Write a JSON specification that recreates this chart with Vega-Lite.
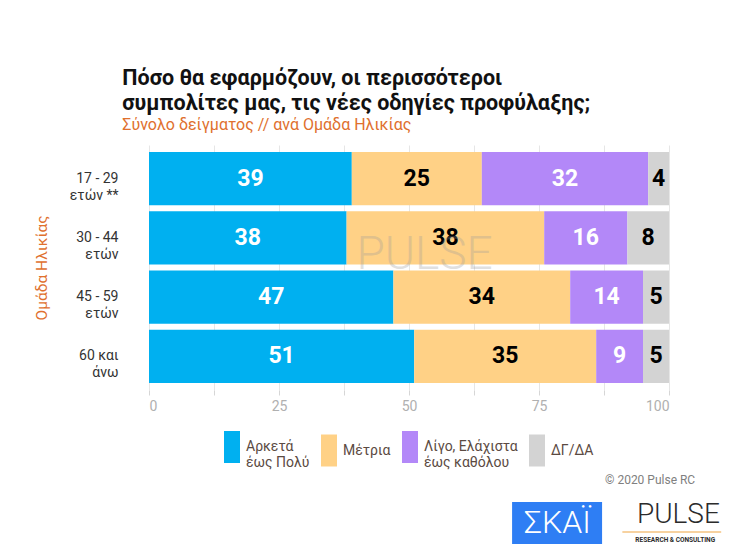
{
  "$schema": "https://vega.github.io/schema/vega-lite/v6.json",
  "padding": {"left": 34, "top": 67, "right": 0, "bottom": 0},
  "title": {
    "text": ["Πόσο θα εφαρμόζουν, οι περισσότεροι", "συμπολίτες μας, τις νέες οδηγίες προφύλαξης;"],
    "subtitle": "Σύνολο δείγματος // ανά Ομάδα Ηλικίας",
    "anchor": "start",
    "frame": "bounds",
    "dx": 88,
    "fontSize": 21.5,
    "fontWeight": "bold",
    "lineHeight": 25,
    "color": "#111111",
    "subtitleColor": "#E0702E",
    "subtitleFontSize": 16,
    "subtitlePadding": 3,
    "offset": 12
  },
  "resolve": {"scale": {"color": "independent"}, "legend": {"color": "independent"}},
  "vconcat": [
    {
      "width": 520,
      "height": 245,
      "layer": [
        {
          "data": {
            "values": [
              {"age": "17 - 29|ετών **", "cat": "Αρκετά|έως Πολύ", "ord": 1, "v": 39},
              {"age": "17 - 29|ετών **", "cat": "Μέτρια", "ord": 2, "v": 25},
              {"age": "17 - 29|ετών **", "cat": "Λίγο, Ελάχιστα|έως καθόλου", "ord": 3, "v": 32},
              {"age": "17 - 29|ετών **", "cat": "ΔΓ/ΔΑ", "ord": 4, "v": 4},
              {"age": "30 - 44|ετών", "cat": "Αρκετά|έως Πολύ", "ord": 1, "v": 38},
              {"age": "30 - 44|ετών", "cat": "Μέτρια", "ord": 2, "v": 38},
              {"age": "30 - 44|ετών", "cat": "Λίγο, Ελάχιστα|έως καθόλου", "ord": 3, "v": 16},
              {"age": "30 - 44|ετών", "cat": "ΔΓ/ΔΑ", "ord": 4, "v": 8},
              {"age": "45 - 59|ετών", "cat": "Αρκετά|έως Πολύ", "ord": 1, "v": 47},
              {"age": "45 - 59|ετών", "cat": "Μέτρια", "ord": 2, "v": 34},
              {"age": "45 - 59|ετών", "cat": "Λίγο, Ελάχιστα|έως καθόλου", "ord": 3, "v": 14},
              {"age": "45 - 59|ετών", "cat": "ΔΓ/ΔΑ", "ord": 4, "v": 5},
              {"age": "60 και|άνω", "cat": "Αρκετά|έως Πολύ", "ord": 1, "v": 51},
              {"age": "60 και|άνω", "cat": "Μέτρια", "ord": 2, "v": 35},
              {"age": "60 και|άνω", "cat": "Λίγο, Ελάχιστα|έως καθόλου", "ord": 3, "v": 9},
              {"age": "60 και|άνω", "cat": "ΔΓ/ΔΑ", "ord": 4, "v": 5}
            ]
          },
          "transform": [
            {"stack": "v", "groupby": ["age"], "sort": [{"field": "ord"}], "as": ["x0", "x1"]},
            {"calculate": "(datum.x0 + datum.x1) / 2", "as": "mid"}
          ],
          "encoding": {
            "y": {
              "field": "age",
              "type": "nominal",
              "sort": null,
              "title": "Ομάδα Ηλικίας",
              "scale": {"paddingInner": 0.105, "paddingOuter": 0.12},
              "axis": {
                "labelExpr": "split(datum.label, '|')",
                "labelFontSize": 14,
                "labelColor": "#333333",
                "labelLineHeight": 17,
                "labelPadding": 31,
                "ticks": false,
                "domain": false,
                "titleFontSize": 15.5,
                "titleFontWeight": "normal",
                "titleColor": "#E0702E",
                "titlePadding": 20
              }
            }
          },
          "layer": [
            {
              "mark": {"type": "bar"},
              "encoding": {
                "x": {
                  "field": "x0",
                  "type": "quantitative",
                  "scale": {"domain": [0, 100], "nice": false},
                  "axis": {
                    "title": null,
                    "values": [0, 12.5, 25, 37.5, 50, 62.5, 75, 87.5, 100],
                    "labelExpr": "datum.value % 25 == 0 ? datum.label : ''",
                    "grid": true,
                    "gridColor": "#e6e6e6",
                    "domain": false,
                    "tickColor": "#d6d6d6",
                    "tickSize": 5,
                    "labelColor": "#b0b0b0",
                    "labelFontSize": 14,
                    "labelPadding": 4
                  }
                },
                "x2": {"field": "x1"},
                "color": {
                  "field": "cat",
                  "type": "nominal",
                  "sort": null,
                  "scale": {
                    "domain": ["Αρκετά|έως Πολύ", "Μέτρια", "Λίγο, Ελάχιστα|έως καθόλου", "ΔΓ/ΔΑ"],
                    "range": ["#00B0F0", "#FFD186", "#B388F8", "#D3D3D3"]
                  },
                  "legend": {
                    "title": null,
                    "orient": "bottom",
                    "direction": "horizontal",
                    "symbolType": "M-1,-2H1V2H-1Z",
                    "symbolSize": 256,
                    "symbolStrokeWidth": 0,
                    "symbolOpacity": 1,
                    "labelExpr": "split(datum.label, '|')",
                    "labelFontSize": 14,
                    "labelColor": "#5b4a42",
                    "labelLimit": 200,
                    "labelOffset": 6,
                    "columnPadding": 11,
                    "offset": 26
                  }
                }
              }
            },
            {
              "mark": {"type": "text", "fontSize": 23, "fontWeight": "bold"},
              "encoding": {
                "x": {"field": "mid", "type": "quantitative"},
                "text": {"field": "v", "type": "quantitative"},
                "color": {
                  "condition": {"test": "datum.ord == 1 || datum.ord == 3", "value": "white"},
                  "value": "black"
                }
              }
            }
          ]
        },
        {
          "data": {
            "values": [
              {"t": "PULSE", "x": 53, "age": "30 - 44|ετών"}
            ]
          },
          "mark": {"type": "text", "fontSize": 46, "fontWeight": 300, "dy": 17, "color": "#9a9a9a", "opacity": 0.3},
          "encoding": {
            "x": {"field": "x", "type": "quantitative"},
            "y": {"field": "age", "type": "nominal", "sort": null},
            "text": {"field": "t"}
          }
        }
      ]
    },
    {
      "width": 580,
      "height": 75,
      "encoding": {
        "x": {"field": "x", "type": "quantitative", "scale": {"domain": [0, 111.5], "nice": false, "zero": false}, "axis": null},
        "y": {"field": "y", "type": "quantitative", "scale": {"domain": [0, 75], "nice": false, "zero": false, "reverse": true}, "axis": null}
      },
      "layer": [
        {
          "data": {"values": [{"t": "© 2020 Pulse RC", "x": 105, "y": 5}]},
          "mark": {"type": "text", "align": "right", "fontSize": 12, "color": "#808080"},
          "encoding": {"text": {"field": "t"}}
        },
        {
          "data": {"values": [{"x": 69.8, "x2": 87.1, "y": 27, "y2": 69}]},
          "mark": {"type": "rect", "color": "#2E7EF4"},
          "encoding": {"x2": {"field": "x2"}, "y2": {"field": "y2"}}
        },
        {
          "data": {"values": [{"t": "ΣΚΑΪ", "x": 78.5, "y": 48}]},
          "mark": {"type": "text", "fontSize": 32, "fontWeight": 300, "color": "white"},
          "encoding": {"text": {"field": "t"}}
        },
        {
          "data": {"values": [{"x": 91, "x2": 110, "y": 57}]},
          "mark": {"type": "rule", "color": "#EFA543", "strokeWidth": 1},
          "encoding": {"x2": {"field": "x2"}}
        },
        {
          "data": {"values": [{"t": "PULSE", "x": 93.8, "y": 40}]},
          "mark": {"type": "text", "align": "left", "fontSize": 28, "fontWeight": 300, "color": "#2b2b2b"},
          "encoding": {"text": {"field": "t"}}
        },
        {
          "data": {"values": [{"t": "RESEARCH & CONSULTING", "x": 93.5, "y": 65}]},
          "mark": {"type": "text", "align": "left", "fontSize": 6.5, "fontWeight": "bold", "color": "#2b2b2b"},
          "encoding": {"text": {"field": "t"}}
        }
      ]
    }
  ],
  "config": {
    "font": "Roboto",
    "view": {"stroke": null},
    "concat": {"spacing": 4},
    "legend": {"layout": {"bottom": {"anchor": "middle"}}}
  }
}
